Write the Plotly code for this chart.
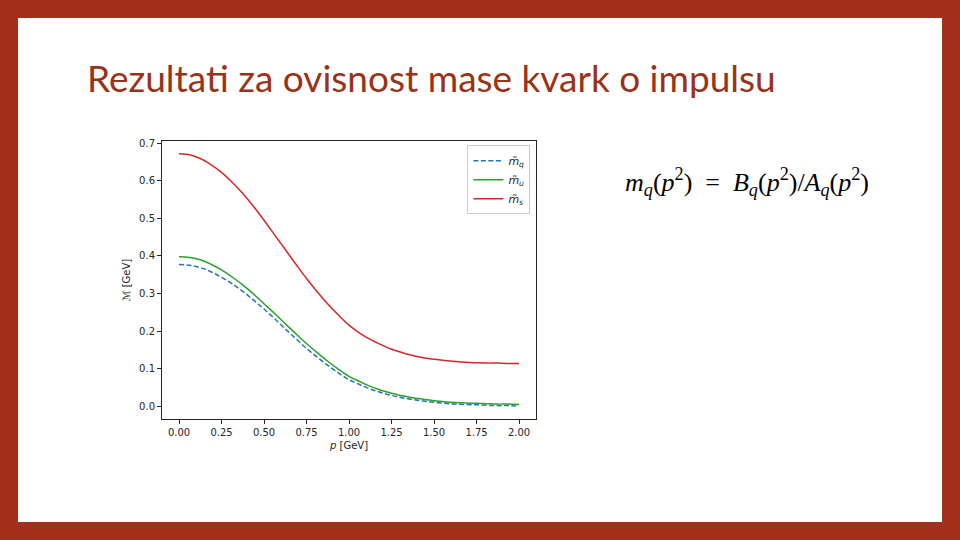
import plotly.graph_objects as go

# ---- data ----
p_vals = [0.0, 0.0625, 0.125, 0.1875, 0.25, 0.3125, 0.375, 0.4375, 0.5, 0.5625,
          0.625, 0.6875, 0.75, 0.8125, 0.875, 0.9375, 1.0, 1.0625, 1.125, 1.1875,
          1.25, 1.3125, 1.375, 1.4375, 1.5, 1.5625, 1.625, 1.6875, 1.75, 1.8125,
          1.875, 1.9375, 2.0]
m_q = [0.377, 0.375, 0.369, 0.358, 0.343, 0.326, 0.306, 0.283, 0.259, 0.233,
       0.206, 0.180, 0.154, 0.131, 0.109, 0.089, 0.071, 0.058, 0.046, 0.037,
       0.029, 0.023, 0.018, 0.014, 0.011, 0.008, 0.006, 0.005, 0.004, 0.003,
       0.002, 0.002, 0.001]
m_u = [0.398, 0.396, 0.390, 0.378, 0.363, 0.344, 0.323, 0.299, 0.273, 0.247,
       0.220, 0.193, 0.167, 0.143, 0.120, 0.099, 0.080, 0.066, 0.053, 0.043,
       0.035, 0.028, 0.023, 0.019, 0.015, 0.012, 0.010, 0.009, 0.008, 0.007,
       0.006, 0.006, 0.005]
m_s = [0.672, 0.669, 0.659, 0.643, 0.622, 0.596, 0.566, 0.532, 0.495, 0.456,
       0.417, 0.378, 0.340, 0.305, 0.272, 0.243, 0.216, 0.195, 0.178, 0.164,
       0.152, 0.143, 0.135, 0.129, 0.125, 0.122, 0.119, 0.117, 0.116, 0.115,
       0.115, 0.114, 0.114]
series_names = ["<i>m̃</i><sub><i>q</i></sub>", "<i>m̃</i><sub><i>u</i></sub>",
                "<i>m̃</i><sub><i>s</i></sub>"]
x_ticks = [0.0, 0.25, 0.5, 0.75, 1.0, 1.25, 1.5, 1.75, 2.0]
x_tick_labels = ["0.00", "0.25", "0.50", "0.75", "1.00", "1.25", "1.50", "1.75", "2.00"]
y_ticks = [0.0, 0.1, 0.2, 0.3, 0.4, 0.5, 0.6, 0.7]
y_tick_labels = ["0.0", "0.1", "0.2", "0.3", "0.4", "0.5", "0.6", "0.7"]
title_text = "Rezultati za ovisnost mase kvark o impulsu"
formula_text = ("<i>m</i><sub><i>q</i></sub>(<i>p</i><sup>2</sup>)&nbsp;&nbsp;=&nbsp;&nbsp;"
                "<i>B</i><sub><i>q</i></sub>(<i>p</i><sup>2</sup>)/"
                "<i>A</i><sub><i>q</i></sub>(<i>p</i><sup>2</sup>)")

# ---- layout geometry (pixels) ----
W, H = 960, 540
L, R, T, B = 162, 536, 141, 419
BORDER = "#A3301A"
TITLE_COLOR = "#9A3218"
AX_COLOR = "#262626"


def px(x):
    return (x - L) / (R - L)


def py(y):
    return (B - y) / (B - T)


fig = go.Figure()
fig.add_trace(go.Scatter(x=p_vals, y=m_q, name=series_names[0], mode="lines",
                         line=dict(color="#1f77b4", width=1.5, dash="5px,2.5px",
                                   shape="spline")))
fig.add_trace(go.Scatter(x=p_vals, y=m_u, name=series_names[1], mode="lines",
                         line=dict(color="#2ca02c", width=1.5, shape="spline")))
fig.add_trace(go.Scatter(x=p_vals, y=m_s, name=series_names[2], mode="lines",
                         line=dict(color="#d62728", width=1.5, shape="spline")))

axis_common = dict(showgrid=False, zeroline=False, showline=True, mirror=True,
                   linecolor=AX_COLOR, linewidth=1, ticks="outside", ticklen=4,
                   tickwidth=1, tickcolor=AX_COLOR,
                   tickfont=dict(family="DejaVu Sans", size=10, color=AX_COLOR))

fig.update_layout(
    width=W, height=H,
    margin=dict(l=L, r=W - R, t=T, b=H - B, pad=0),
    paper_bgcolor=BORDER,
    plot_bgcolor="white",
    showlegend=True,
    legend=dict(x=0.985, y=0.985, xanchor="right", yanchor="top",
                bgcolor="white", bordercolor="#cccccc", borderwidth=1,
                font=dict(family="DejaVu Sans", size=11, color=AX_COLOR),
                itemwidth=30, tracegroupgap=2),
    xaxis=dict(range=[-0.1, 2.1], tickvals=x_ticks, ticktext=x_tick_labels,
               title=dict(text="<i>p</i> [GeV]", standoff=4,
                          font=dict(family="DejaVu Sans", size=10, color=AX_COLOR)),
               **axis_common),
    yaxis=dict(range=[-0.0336, 0.7056], tickvals=y_ticks, ticktext=y_tick_labels,
               title=dict(text="ℳ [GeV]", standoff=6,
                          font=dict(family="DejaVu Sans", size=10, color=AX_COLOR)),
               **axis_common),
    shapes=[dict(type="rect", xref="paper", yref="paper",
                 x0=px(18), x1=px(942), y0=py(522), y1=py(18),
                 fillcolor="white", line=dict(width=0), layer="below")],
    annotations=[
        dict(text=title_text, xref="paper", yref="paper", x=px(85), y=py(77),
             xanchor="left", yanchor="middle", showarrow=False,
             font=dict(family="Lato", size=37, color=TITLE_COLOR)),
        dict(text=formula_text, xref="paper", yref="paper", x=px(747), y=py(182),
             xanchor="center", yanchor="middle", showarrow=False,
             font=dict(family="Liberation Serif", size=26, color="black")),
    ],
)

fig.write_html("out.html", config={"displayModeBar": False},
               post_script="document.body.style.margin='0';document.body.style.padding='0';")
